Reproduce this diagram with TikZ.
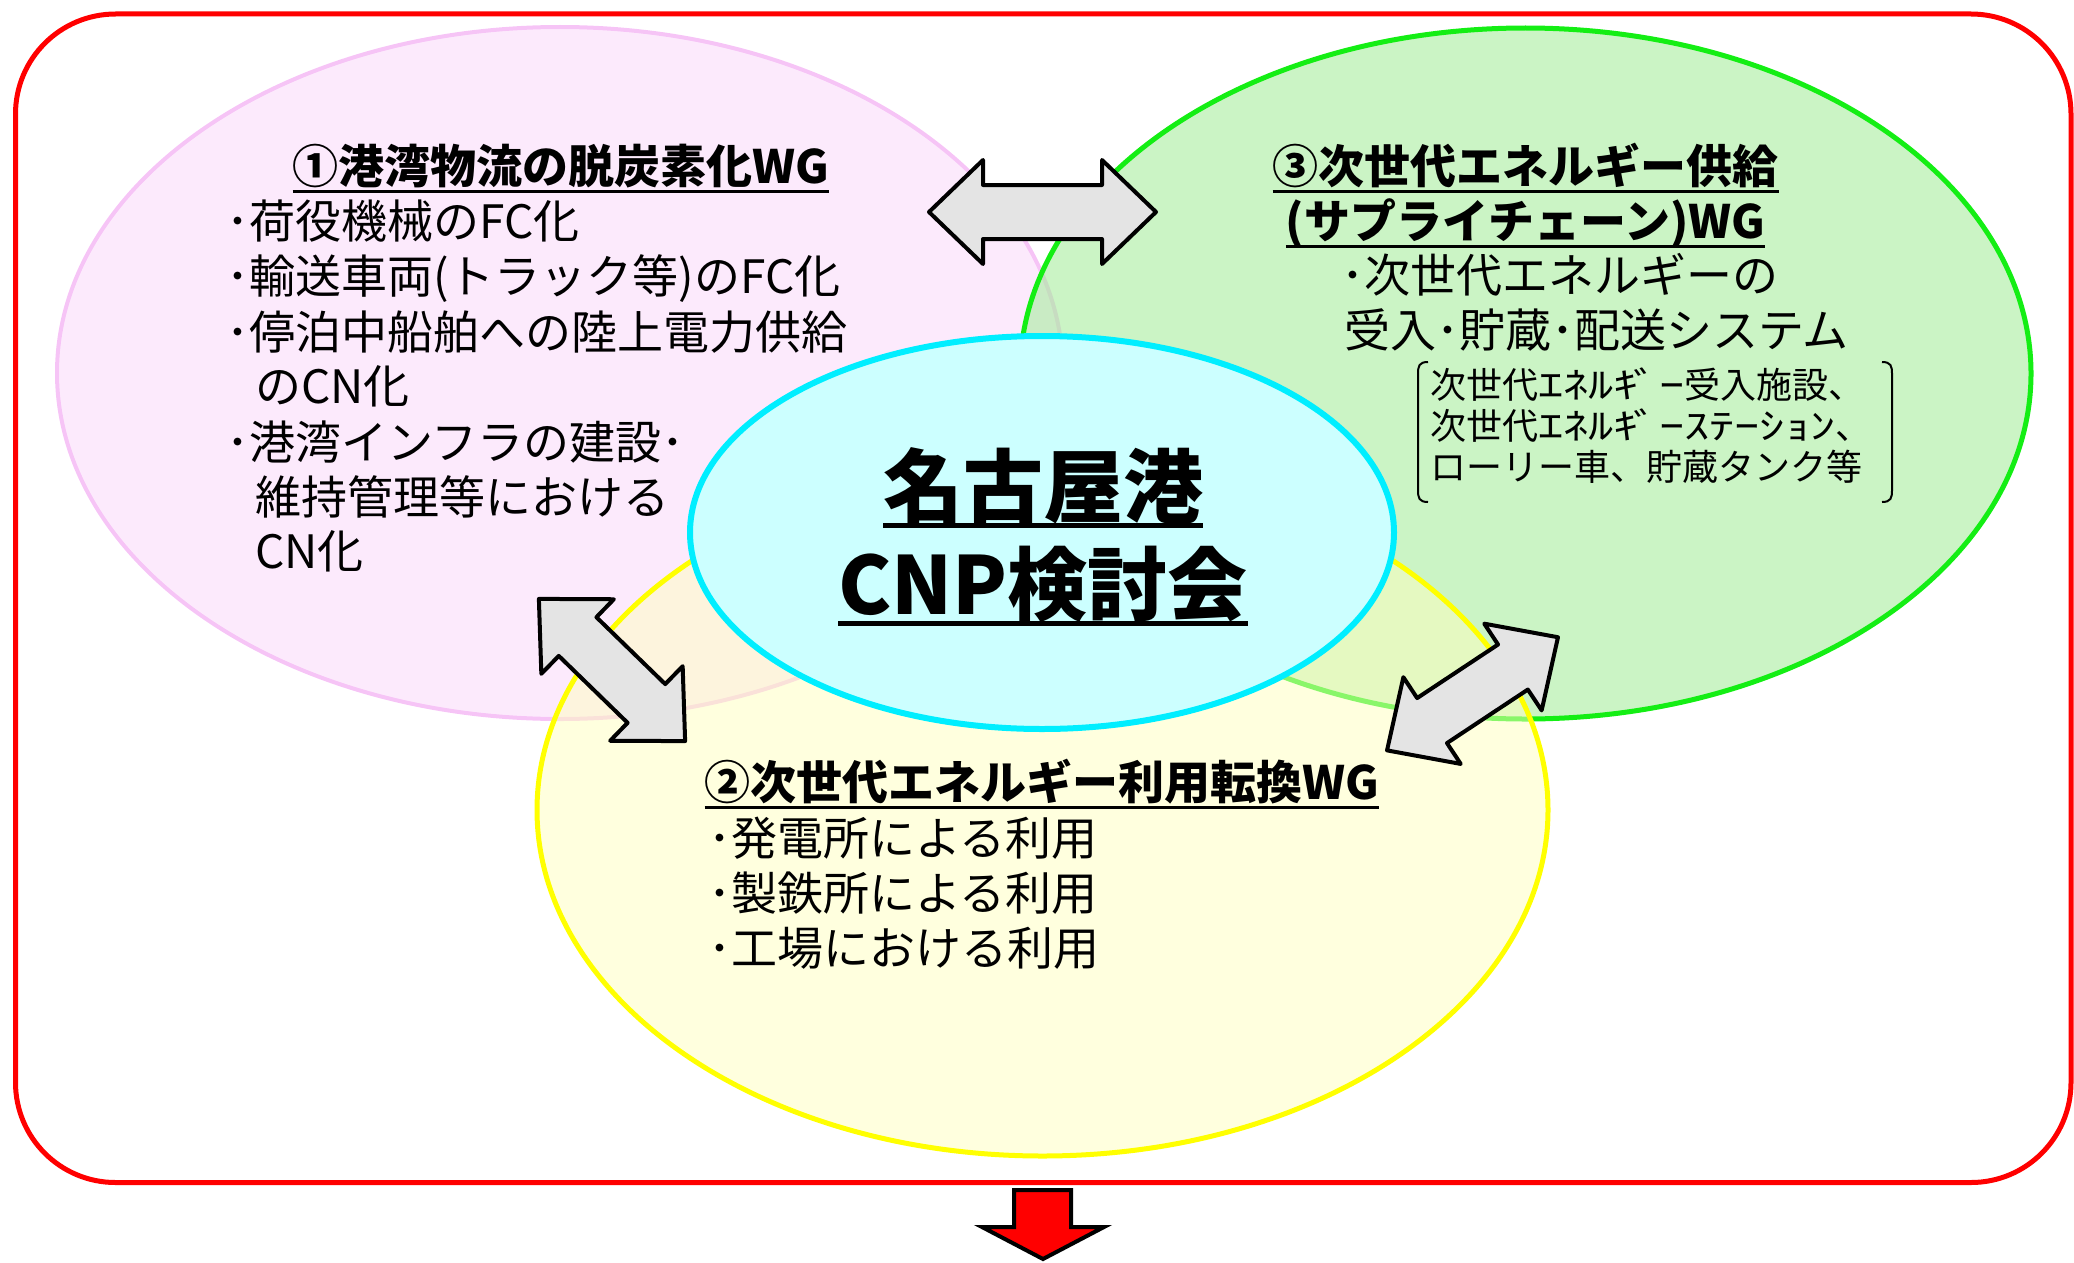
\documentclass[tikz,border=0pt]{standalone}
\usepackage{fontspec}
\usepackage{graphicx}
\setmainfont{Noto Sans CJK JP}
\usetikzlibrary{shapes.geometric}
\definecolor{pinkline}{RGB}{246,196,246}
\definecolor{pinkfill}{RGB}{250,214,250}
\definecolor{greenline}{RGB}{20,238,20}
\definecolor{greenfill}{RGB}{168,236,158}
\definecolor{yellowline}{RGB}{255,255,0}
\definecolor{yellowfill}{RGB}{255,255,190}
\definecolor{cyanline}{RGB}{0,238,255}
\definecolor{cyanfill}{RGB}{204,255,255}
\definecolor{arrowgray}{RGB}{228,228,228}
\definecolor{framered}{RGB}{255,0,0}
\newsavebox\ulbox
\newcommand\ulin[3]{\sbox\ulbox{#3}\rlap{\rule[-#2]{\wd\ulbox}{#1}}\usebox\ulbox}
\tikzset{
  frame/.style={draw=framered,line width=5pt,rounded corners=100pt},
  wg/.style={ellipse,inner sep=0pt,outer sep=0pt,line width=5pt},
  blockarrow/.style={draw=black,line width=4pt,fill=arrowgray,line join=round},
  downarrow/.style={draw=black,line width=4pt,fill=framered,line join=miter},
  body/.style={inner sep=0pt,anchor=base west,font=\fontsize{46pt}{55pt}\selectfont},
  head/.style={inner sep=0pt,anchor=base,font=\fontsize{46pt}{55pt}\selectfont\bfseries},
  note/.style={inner sep=0pt,anchor=base west,font=\fontsize{36pt}{42pt}\selectfont},
  big/.style={inner sep=0pt,anchor=base,font=\fontsize{80pt}{96pt}\selectfont\bfseries},
  bracket/.style={draw=black,line width=2pt},
  pics/dbarrow/.style={code={
    \path[blockarrow] (-#1,0) -- ({-#1+54},52) -- ({-#1+54},27) -- ({#1-54},27)
      -- ({#1-54},52) -- (#1,0) -- ({#1-54},-52) -- ({#1-54},-27)
      -- ({-#1+54},-27) -- ({-#1+54},-52) -- cycle;}}
}
\begin{document}
\begin{tikzpicture}[x=1pt,y=-1pt]
\useasboundingbox (0,0) rectangle (2074,1263);
\clip (0,0) rectangle (2074,1263);
% outer frame
\path[frame] (15.5,14) rectangle (2071,1182.5);
% working-group ellipses
\node[wg,draw=pinkline,fill=pinkfill,fill opacity=0.5,line width=4pt,
      minimum width=1006pt,minimum height=692pt] (wg1) at (560,373) {};
\node[wg,draw=greenline,fill=greenfill,fill opacity=0.6,
      minimum width=1011pt,minimum height=691pt] (wg3) at (1525.5,373.5) {};
\node[wg,draw=yellowline,fill=yellowfill,fill opacity=0.5,
      minimum width=1011pt,minimum height=692pt] (wg2) at (1042.5,810) {};
\node[wg,draw=cyanline,fill=cyanfill,line width=6pt,
      minimum width=704pt,minimum height=393pt] (council) at (1042,532.5) {};
% double block arrows
\pic at (1042.5,212) {dbarrow=113.5};
\pic[rotate=-44.2] at (612,670) {dbarrow=102};
\pic[rotate=33.5] at (1472.5,693.8) {dbarrow=102.5};
% down arrow
\path[downarrow] (1014,1190) -- (1071,1190) -- (1071,1227) -- (1104,1227)
  -- (1043,1259) -- (982,1227) -- (1014,1227) -- cycle;
% WG1 text
\node[head] (t1) at (561,183) {\ulin{3pt}{10pt}{①港湾物流の脱炭素化WG}};
\node[body] (p1) at (226,238) {･荷役機械のFC化};
\node[body] (p2) at (226,293) {･輸送車両(トラック等)のFC化};
\node[body] (p3) at (226,349) {･停泊中船舶への陸上電力供給};
\node[body] (p4) at (255,403) {のCN化};
\node[body] (p5) at (226,459) {･港湾インフラの建設･};
\node[body] (p6) at (255,514) {維持管理等における};
\node[body] (p7) at (255,568) {CN化};
% WG3 text
\node[head] (t3a) at (1525.5,183) {\ulin{3pt}{10pt}{③次世代エネルギー供給}};
\node[head] (t3b) at (1525.5,238) {\ulin{3pt}{10pt}{(サプライチェーン)WG}};
\node[body] (g1) at (1341,292) {･次世代エネルギーの};
\node[body] (g2) at (1344,347) {受入･貯蔵･配送システム};
\node[note] (n1) at (1430,398) {次世代\scalebox{1.4}[1]{ｴﾈﾙｷ\kern-0.1emﾞｰ}受入施設、};
\node[note] (n2) at (1430,439) {次世代\scalebox{1.4}[1]{ｴﾈﾙｷ\kern-0.1emﾞｰｽﾃｰｼｮﾝ}、};
\node[note] (n3) at (1430,480) {ローリー車、貯蔵タンク等};
\draw[bracket] (1428,362) .. controls (1419,362) and (1418,366) .. (1418,374)
  -- (1418,490) .. controls (1418,498) and (1419,502) .. (1428,502);
\draw[bracket] (1882,362) .. controls (1891,362) and (1892,366) .. (1892,374)
  -- (1892,490) .. controls (1892,498) and (1891,502) .. (1882,502);
% WG2 text
\node[head] (t2) at (1042,799) {\ulin{3pt}{10pt}{②次世代エネルギー利用転換WG}};
\node[body] (y1) at (708,855) {･発電所による利用};
\node[body] (y2) at (708,910) {･製鉄所による利用};
\node[body] (y3) at (708,965) {･工場における利用};
% council title
\node[big] (c1) at (1043,516) {\ulin{4.5pt}{11.5pt}{名古屋港}};
\node[big] (c2) at (1043,614) {\ulin{4.5pt}{11.5pt}{CNP検討会}};
\end{tikzpicture}
\end{document}
